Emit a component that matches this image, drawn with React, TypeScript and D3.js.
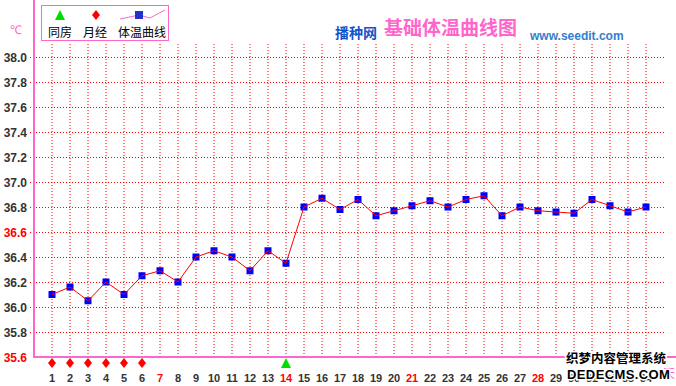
import { useEffect } from 'react';
import * as d3 from 'd3';

// day numbers on the x axis
const days = d3.range(1, 35);
// basal body temperature per day (°C)
const temps = [
  36.1, 36.16, 36.05, 36.2, 36.1, 36.25, 36.29, 36.2, 36.4, 36.45,
  36.4, 36.29, 36.45, 36.35, 36.8, 36.87, 36.78, 36.86, 36.73, 36.77,
  36.81, 36.85, 36.8, 36.86, 36.89, 36.73, 36.8, 36.77, 36.76, 36.75,
  36.86, 36.81, 36.76, 36.8,
];
const periodDays = [1, 2, 3, 4, 5, 6]; // 月经
const intercourseDays = [14]; // 同房
const redDays = [7, 14, 21, 28];
const yTicks = [38.0, 37.8, 37.6, 37.4, 37.2, 37.0, 36.8, 36.6, 36.4, 36.2, 36.0, 35.8, 35.6];
const redTicks = [36.6, 35.6];

const W = 676;
const H = 386;
const PINK = '#ff66cc';
const GRID = '#ff0000';
const CJK = '"Noto Sans CJK SC", sans-serif';
const LAT = '"Liberation Sans", Arial, sans-serif';

const x = d3.scaleLinear().domain([1, 34]).range([52, 646]);
const y = d3.scaleLinear().domain([35.6, 38.0]).range([357, 57]);

const line = d3
  .line<number>()
  .x((_d, i) => x(days[i]))
  .y(d => y(d));

const diamond = 'M0,-5 L4,0 L0,5 L-4,0 Z';
const triangle = 'M0,-5 L5,5 L-5,5 Z';

export default function App() {
  useEffect(() => {
    document.body.style.margin = '0';
  }, []);

  return (
    <svg width={W} height={H} style={{ display: 'block', background: '#fff' }}>
      {/* vertical grid */}
      {days.map(d => (
        <line key={'v' + d} x1={x(d)} x2={x(d)} y1={44} y2={357}
          stroke={GRID} strokeWidth={1} strokeDasharray="1,2" />
      ))}
      {/* horizontal grid */}
      {yTicks.filter(t => t > 35.6).map(t => (
        <line key={'h' + t} x1={30} x2={664} y1={Math.round(y(t)) + 0.5} y2={Math.round(y(t)) + 0.5}
          stroke={GRID} strokeWidth={1} strokeDasharray="1,2" />
      ))}

      {/* axes */}
      <line x1={34} x2={34} y1={0} y2={358} stroke={PINK} strokeWidth={2} />
      <line x1={33} x2={W} y1={357} y2={357} stroke={PINK} strokeWidth={2} />

      {/* y labels */}
      {yTicks.map(t => (
        <text key={'yl' + t} x={27} y={y(t) + 4.5} textAnchor="end" fontFamily={LAT}
          fontWeight="bold" fontSize={12} fill={redTicks.includes(t) ? '#ff0000' : '#333'}>
          {t.toFixed(1)}
        </text>
      ))}

      {/* x labels */}
      {days.map(d => (
        <text key={'xl' + d} x={x(d)} y={382} textAnchor="middle" fontFamily={LAT}
          fontWeight="bold" fontSize={11} fill={redDays.includes(d) ? '#ff0000' : '#333'}>
          {d}
        </text>
      ))}
      <text x={669} y={378} textAnchor="middle" fontFamily={CJK} fontSize={12} fill={PINK}>天</text>

      {/* markers under the axis */}
      {periodDays.map(d => (
        <path key={'p' + d} d={diamond} transform={`translate(${x(d)},363)`} fill="#ff0000" />
      ))}
      {intercourseDays.map(d => (
        <path key={'s' + d} d={triangle} transform={`translate(${x(d)},363)`} fill="#00dd00" />
      ))}

      {/* temperature curve */}
      {temps.map((t, i) => (
        <rect key={'pt' + i} x={x(days[i]) - 3.5} y={y(t) - 3.5} width={7} height={7} fill="#0000ff" />
      ))}
      <path d={line(temps) ?? ''} fill="none" stroke="#ff0000" strokeWidth={1} />

      {/* °C unit */}
      <text x={16} y={34} textAnchor="middle" fontFamily={LAT} fontSize={12} fill={PINK}>℃</text>

      {/* legend */}
      <rect x={41.5} y={5.5} width={127} height={35} fill="#fff" stroke={PINK} strokeWidth={1} />
      <path d={triangle} transform="translate(60,15)" fill="#00dd00" />
      <path d={diamond} transform="translate(96,15)" fill="#ff0000" />
      <polyline points="120,19 139,15 150,18 165,10" fill="none" stroke={PINK} strokeWidth={1} />
      <rect x={135} y={11} width={8} height={8} fill="#2233cc" />
      <text x={48} y={37} fontFamily={CJK} fontSize={12} fill="#000">同房</text>
      <text x={83} y={37} fontFamily={CJK} fontSize={12} fill="#000">月经</text>
      <text x={118} y={37} fontFamily={CJK} fontSize={12} fill="#000">体温曲线</text>

      {/* title */}
      <text x={335} y={38} fontFamily={CJK} fontWeight="bold" fontSize={14} fill="#1155cc">播种网</text>
      <text x={384} y={35} fontFamily={CJK} fontWeight="bold" fontSize={19} fill={PINK}>基础体温曲线图</text>
      <text x={530} y={40} fontFamily={LAT} fontWeight="bold" fontSize={12} fill="#3380cc">www.seedit.com</text>

      {/* watermark */}
      <g fontFamily={CJK} fontWeight="bold" stroke="#fff" strokeWidth={3} paintOrder="stroke" fill="#000">
        <text x={566} y={363} fontSize={12.5}>织梦内容管理系统</text>
        <text x={567} y={379} fontSize={13} fontFamily={LAT} letterSpacing={0.4}>DEDECMS.COM</text>
      </g>
    </svg>
  );
}
